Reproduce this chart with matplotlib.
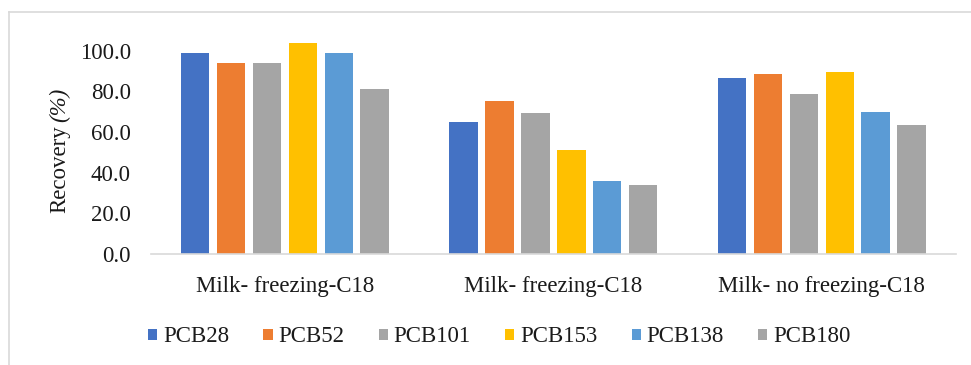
import matplotlib
matplotlib.use("Agg")
import matplotlib.pyplot as plt
from matplotlib.patches import Patch
from matplotlib.lines import Line2D
import numpy as np

plt.rcParams['font.family'] = ['Liberation Serif', 'DejaVu Serif']

categories = ["Milk- freezing-C18", "Milk- freezing-C18", "Milk- no freezing-C18"]
series_names = ["PCB28", "PCB52", "PCB101", "PCB153", "PCB138", "PCB180"]
pcb28 = [98.7, 65.0, 86.4]
pcb52 = [94.1, 75.5, 88.5]
pcb101 = [94.1, 69.4, 78.7]
pcb153 = [103.6, 51.2, 89.7]
pcb138 = [98.7, 36.0, 70.0]
pcb180 = [81.0, 34.0, 63.5]
series_values = [pcb28, pcb52, pcb101, pcb153, pcb138, pcb180]
colors = ["#4472C4", "#ED7D31", "#A5A5A5", "#FFC000", "#5B9BD5", "#A5A5A5"]
yticks = [0, 20, 40, 60, 80, 100]

W, H = 971, 365
fig = plt.figure(figsize=(W / 100, H / 100), dpi=100)
fig.patch.set_facecolor("white")

left, right, bottom, top = 150.75, 956, 254, 30.4
ax = fig.add_axes([left / W, (H - bottom) / H, (right - left) / W, (bottom - top) / H])

x = np.arange(len(categories))
bar_w = 0.106
pitch = 0.1337
n = len(series_names)
for i, (name, vals, c) in enumerate(zip(series_names, series_values, colors)):
    offs = (i - (n - 1) / 2) * pitch
    ax.bar(x + offs, vals, width=bar_w, color=c, label=name, zorder=2)

ax.set_xlim(-0.5, len(categories) - 0.5)
ax.set_ylim(0, 110)
ax.set_yticks(yticks)
ax.set_yticklabels([f"{v:.1f}" for v in yticks])
ax.set_xticks(x)
ax.set_xticklabels(categories)
ax.tick_params(axis='y', length=0, pad=14.4, labelsize=16.5, colors="#1a1a1a")
ax.tick_params(axis='x', length=0, pad=16, labelsize=16.5, colors="#1a1a1a")
for s in ["top", "right", "left"]:
    ax.spines[s].set_visible(False)
ax.spines["bottom"].set_color("#D9D9D9")
ax.spines["bottom"].set_linewidth(1.2)

# Axis title: upright word followed by an italic unit
fig.text(60 / W, (H - 213) / H, "Recovery", rotation=90, ha="center", va="bottom",
         fontsize=16.5, color="#1a1a1a")
fig.text(60 / W, (H - 122) / H, "(%)", rotation=90, ha="center", va="bottom",
         fontsize=16.5, color="#1a1a1a", style="italic")

handles = [Patch(facecolor=c, edgecolor="none") for c in colors]
leg = fig.legend(handles, series_names, loc="center left",
                 bbox_to_anchor=(148 / W, (H - 337) / H), ncol=6, frameon=False,
                 fontsize=16.5, handlelength=0.4, handleheight=0.4,
                 handletextpad=0.25, columnspacing=1.5, borderaxespad=0,
                 borderpad=0)
for t in leg.get_texts():
    t.set_color("#1a1a1a")

# Chart-area frame (top and left edges)
fig.add_artist(Line2D([9 / W, 1.0], [(H - 12) / H, (H - 12) / H],
                      transform=fig.transFigure, color="#D9D9D9", lw=1.2))
fig.add_artist(Line2D([9 / W, 9 / W], [0, (H - 12) / H],
                      transform=fig.transFigure, color="#D9D9D9", lw=1.2))

fig.savefig("out.png", dpi=100, facecolor="white")
